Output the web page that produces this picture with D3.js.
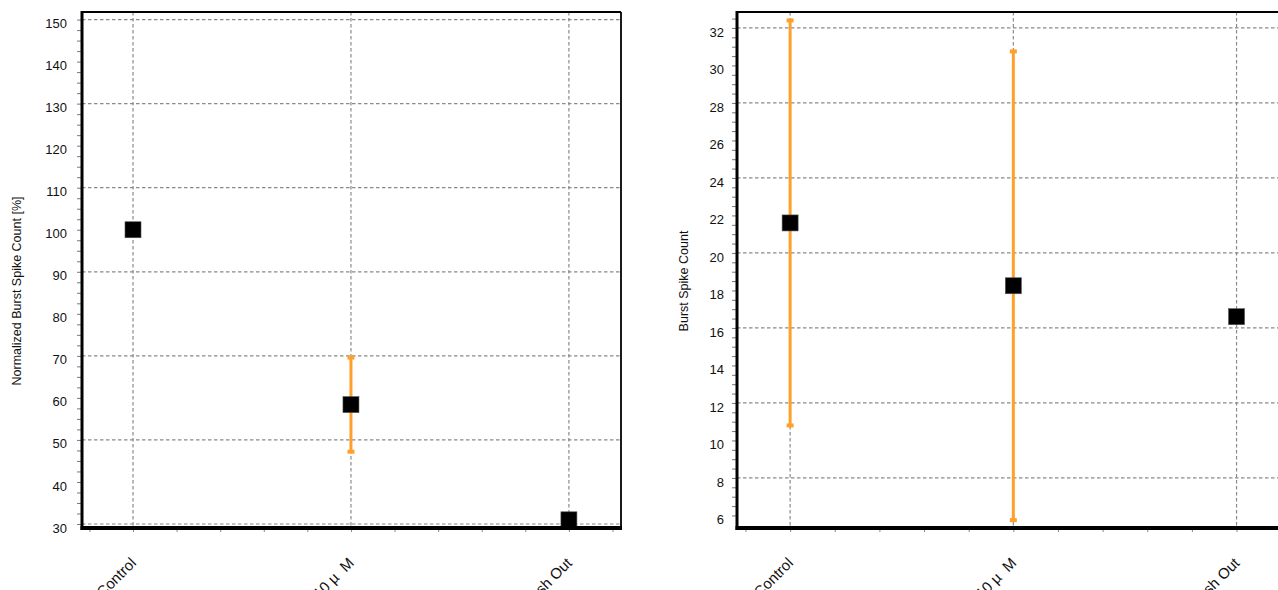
<!DOCTYPE html>
<html>
<head>
<meta charset="utf-8">
<script src="https://cdn.jsdelivr.net/npm/d3@7/dist/d3.min.js"></script>
<style>
  html, body { margin: 0; padding: 0; background: #fff; overflow: hidden; }
  svg { display: block; font-family: "Liberation Sans", Arial, sans-serif; }
</style>
</head>
<body>
<svg id="chart" width="1278" height="590"></svg>
<script>
// ---- data ----
const categories = ["Control", "10 µ  M", "Wash Out"];

// Left panel: normalized burst spike count [%]
const normMean = [100, 58.4, 31];
const normErr  = [0, 11.2, 0];
const normTickLabels = [30, 40, 50, 60, 70, 80, 90, 100, 110, 120, 130, 140, 150];
const normGrid = [30, 50, 70, 90, 110, 130, 150];

// Right panel: burst spike count
const countMean = [21.6, 18.25, 16.6];
const countErr  = [10.8, 12.5, 0];
const countTickLabels = [6, 8, 10, 12, 14, 16, 18, 20, 22, 24, 26, 28, 30, 32];
const countGrid = [8, 12, 16, 20, 24, 28, 32];

const svg = d3.select("#chart");
const ORANGE = "#ffa02a";
const GRID = "#8a8a8a";

function panel(opts) {
  const g = svg.append("g");
  const x = d3.scaleLinear().domain(opts.xDomain).range([opts.x0, opts.x1]);
  const y = d3.scaleLinear().domain(opts.yDomain).range([opts.yBottom, opts.yTop]);
  const idx = categories.map((d, i) => i);

  // horizontal grid
  g.append("g").selectAll("line").data(opts.grid).join("line")
    .attr("x1", opts.x0).attr("x2", opts.x1)
    .attr("y1", d => y(d)).attr("y2", d => y(d))
    .attr("stroke", GRID).attr("stroke-width", 1.2).attr("stroke-dasharray", "3.5,2.5");
  // vertical grid at categories
  g.append("g").selectAll("line").data(idx).join("line")
    .attr("x1", d => x(d)).attr("x2", d => x(d))
    .attr("y1", opts.yTop).attr("y2", opts.yBottom)
    .attr("stroke", GRID).attr("stroke-width", 1.2).attr("stroke-dasharray", "3.5,2.5");

  // error bars
  const eb = idx.filter(i => opts.err[i] > 0);
  g.append("g").selectAll("line").data(eb).join("line")
    .attr("x1", d => x(d)).attr("x2", d => x(d))
    .attr("y1", d => y(opts.mean[d] + opts.err[d]))
    .attr("y2", d => y(opts.mean[d] - opts.err[d]))
    .attr("stroke", ORANGE).attr("stroke-width", 3);
  const caps = [];
  eb.forEach(i => { caps.push([i, opts.mean[i] + opts.err[i]]); caps.push([i, opts.mean[i] - opts.err[i]]); });
  g.append("g").selectAll("rect").data(caps).join("rect")
    .attr("x", d => x(d[0]) - 3.5).attr("y", d => y(d[1]) - 2)
    .attr("width", 7).attr("height", 4).attr("fill", ORANGE);

  // markers
  g.append("g").selectAll("rect").data(idx).join("rect")
    .attr("x", d => x(d) - 8).attr("y", d => y(opts.mean[d]) - 8)
    .attr("width", 16).attr("height", 16)
    .attr("fill", "#000").attr("stroke", "#555").attr("stroke-width", 0.6);

  // y axis minor ticks
  const minor = d3.range(opts.minorStart, opts.yDomain[1], opts.minorStep);
  const yMinor = d3.axisLeft(y).tickValues(minor).tickSize(5).tickFormat("");
  const gm = g.append("g").attr("transform", `translate(${opts.x0},0)`).call(yMinor);
  gm.select(".domain").remove();
  gm.selectAll(".tick line").attr("stroke", "#777").attr("stroke-width", 1);

  // y axis labels
  const yAxis = d3.axisLeft(y).tickValues(opts.labels).tickSize(0).tickPadding(opts.pad).tickFormat(d3.format("d"));
  const ga = g.append("g").attr("transform", `translate(${opts.x0},0)`).call(yAxis);
  ga.select(".domain").remove();
  ga.selectAll(".tick text").attr("font-size", 13).attr("fill", "#111")
    .attr("font-family", "'Liberation Sans', Arial, sans-serif").attr("dy", "0.62em");

  // x axis minor ticks
  const xt = d3.range(-0.2, 2.21, 0.2);
  const xAxis = d3.axisBottom(x).tickValues(xt).tickSize(4).tickFormat("");
  const gx = g.append("g").attr("transform", `translate(0,${opts.yBottom})`).call(xAxis);
  gx.select(".domain").remove();
  gx.selectAll(".tick line").attr("stroke", "#888");

  // category labels
  g.append("g").selectAll("text").data(idx).join("text")
    .attr("transform", d => `translate(${x(d) + 4},${opts.yBottom + 36}) rotate(-45)`)
    .attr("text-anchor", "end")
    .attr("font-size", 15).attr("fill", "#111")
    .style("white-space", "pre")
    .text(d => categories[d]);

  // frame
  g.append("line").attr("x1", opts.x0).attr("x2", opts.x1).attr("y1", opts.yTop).attr("y2", opts.yTop)
    .attr("stroke", "#000").attr("stroke-width", 1.8);
  g.append("line").attr("x1", opts.x1).attr("x2", opts.x1).attr("y1", opts.yTop).attr("y2", opts.yBottom)
    .attr("stroke", "#000").attr("stroke-width", 1.8);
  g.append("line").attr("x1", opts.x0).attr("x2", opts.x0).attr("y1", opts.yTop - 0.9).attr("y2", opts.yBottom + 2)
    .attr("stroke", "#000").attr("stroke-width", 3);
  g.append("line").attr("x1", opts.x0 - 1.5).attr("x2", opts.x1 + 1).attr("y1", opts.yBottom).attr("y2", opts.yBottom)
    .attr("stroke", "#000").attr("stroke-width", 4);

  // y title
  g.append("text")
    .attr("transform", `translate(${opts.titleX},${opts.titleY}) rotate(-90)`)
    .attr("text-anchor", "middle").attr("font-size", 12.5).attr("fill", "#111")
    .text(opts.title);
}

panel({
  x0: 82, x1: 621, yTop: 12, yBottom: 528,
  xDomain: [-0.234, 2.239],
  yDomain: [29.05, 151.8],
  grid: normGrid, labels: normTickLabels,
  minorStart: 30, minorStep: 2.5, pad: 15,
  mean: normMean, err: normErr,
  title: "Normalized Burst Spike Count [%]", titleX: 21, titleY: 291
});

panel({
  x0: 737, x1: 1289, yTop: 12, yBottom: 528,
  xDomain: [-0.238, 2.235],
  yDomain: [5.33, 32.85],
  grid: countGrid, labels: countTickLabels,
  minorStart: 6, minorStep: 0.5, pad: 13,
  mean: countMean, err: countErr,
  title: "Burst Spike Count", titleX: 688, titleY: 281
});
</script>
</body>
</html>
